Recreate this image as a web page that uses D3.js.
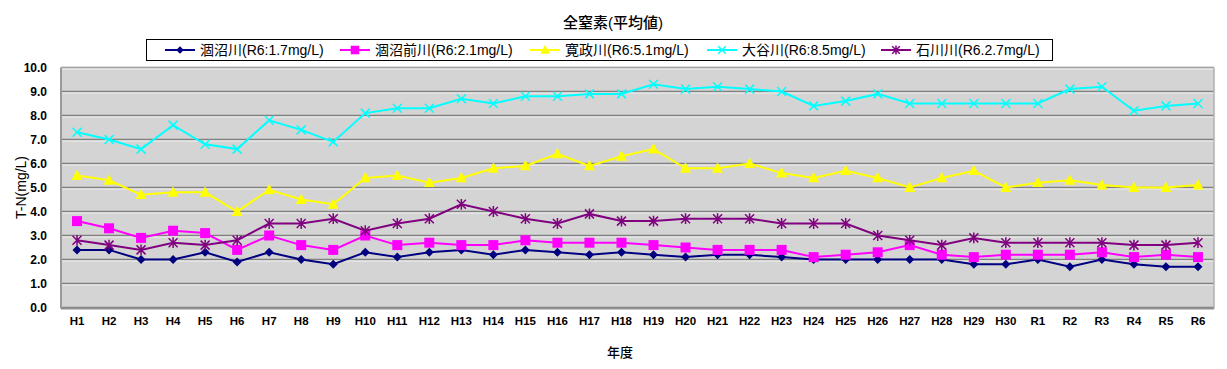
<!DOCTYPE html>
<html><head><meta charset="utf-8">
<script src="https://cdn.jsdelivr.net/npm/d3@7/dist/d3.min.js"></script>
<style>
body{margin:0;background:#fff;}
text{font-family:Arial,"Liberation Sans","Noto Sans CJK JP",sans-serif;}
</style></head>
<body><svg id="c" width="1227" height="369"></svg>
<script>
const categories = ["H1","H2","H3","H4","H5","H6","H7","H8","H9","H10","H11","H12","H13","H14","H15","H16","H17","H18","H19","H20","H21","H22","H23","H24","H25","H26","H27","H28","H29","H30","R1","R2","R3","R4","R5","R6"];
const hinumagawa = [2.4,2.4,2.0,2.0,2.3,1.9,2.3,2.0,1.8,2.3,2.1,2.3,2.4,2.2,2.4,2.3,2.2,2.3,2.2,2.1,2.2,2.2,2.1,2.0,2.0,2.0,2.0,2.0,1.8,1.8,2.0,1.7,2.0,1.8,1.7,1.7];
const hinumamaegawa = [3.6,3.3,2.9,3.2,3.1,2.4,3.0,2.6,2.4,3.0,2.6,2.7,2.6,2.6,2.8,2.7,2.7,2.7,2.6,2.5,2.4,2.4,2.4,2.1,2.2,2.3,2.6,2.2,2.1,2.2,2.2,2.2,2.3,2.1,2.2,2.1];
const kanseigawa = [5.5,5.3,4.7,4.8,4.8,4.0,4.9,4.5,4.3,5.4,5.5,5.2,5.4,5.8,5.9,6.4,5.9,6.3,6.6,5.8,5.8,6.0,5.6,5.4,5.7,5.4,5.0,5.4,5.7,5.0,5.2,5.3,5.1,5.0,5.0,5.1];
const oyagawa = [7.3,7.0,6.6,7.6,6.8,6.6,7.8,7.4,6.9,8.1,8.3,8.3,8.7,8.5,8.8,8.8,8.9,8.9,9.3,9.1,9.2,9.1,9.0,8.4,8.6,8.9,8.5,8.5,8.5,8.5,8.5,9.1,9.2,8.2,8.4,8.5];
const ishikawagawa = [2.8,2.6,2.4,2.7,2.6,2.8,3.5,3.5,3.7,3.2,3.5,3.7,4.3,4.0,3.7,3.5,3.9,3.6,3.6,3.7,3.7,3.7,3.5,3.5,3.5,3.0,2.8,2.6,2.9,2.7,2.7,2.7,2.7,2.6,2.6,2.7];
const seriesNames = ["涸沼川(R6:1.7mg/L)","涸沼前川(R6:2.1mg/L)","寛政川(R6:5.1mg/L)","大谷川(R6:8.5mg/L)","石川川(R6.2.7mg/L)"];
const yTicks = [0,1,2,3,4,5,6,7,8,9,10];
const title = "全窒素(平均値)";
const yTitle = "T-N(mg/L)";
const xTitle = "年度";

const series = [
  {name:seriesNames[0], values:hinumagawa, color:"#000080", marker:"diamond"},
  {name:seriesNames[1], values:hinumamaegawa, color:"#ff00ff", marker:"square"},
  {name:seriesNames[2], values:kanseigawa, color:"#ffff00", marker:"triangle"},
  {name:seriesNames[3], values:oyagawa, color:"#00ffff", marker:"x"},
  {name:seriesNames[4], values:ishikawagawa, color:"#800080", marker:"star"}
];

const svg = d3.select("#c");
const L=61, R=1214, T=67.5, B=307.5;
const x = d3.scaleBand().domain(categories).range([L,R]);
const y = d3.scaleLinear().domain([0,10]).range([B,T]);

svg.append("text").attr("x",613).attr("y",28).attr("text-anchor","middle")
  .attr("font-size",15).attr("font-weight",500).attr("font-family","'Noto Sans CJK JP',sans-serif").text(title);

// plot area
svg.append("rect").attr("x",L).attr("y",T).attr("width",R-L).attr("height",B-T).attr("fill","#d4d4d4");
yTicks.forEach(t=>{
  svg.append("line").attr("x1",L).attr("x2",R).attr("y1",y(t)).attr("y2",y(t)).attr("stroke","#808080").attr("stroke-width",1.3);
  if(t>0) svg.append("line").attr("x1",L).attr("x2",R).attr("y1",y(t)+1.5).attr("y2",y(t)+1.5).attr("stroke","#f2f2f2").attr("stroke-width",1);
});
// border
svg.append("line").attr("x1",L).attr("x2",L).attr("y1",T).attr("y2",B+1).attr("stroke","#9a9a9a").attr("stroke-width",2);
svg.append("line").attr("x1",R).attr("x2",R).attr("y1",T).attr("y2",B+1).attr("stroke","#b0b0b0").attr("stroke-width",1.5);
svg.append("line").attr("x1",L).attr("x2",R).attr("y1",T).attr("y2",T).attr("stroke","#a0a0a0").attr("stroke-width",1);
svg.append("line").attr("x1",L).attr("x2",R).attr("y1",B+1).attr("y2",B+1).attr("stroke","#909090").attr("stroke-width",2);

// y axis labels
yTicks.forEach(t=>{
  svg.append("text").attr("x",47).attr("y",y(t)+4.5).attr("text-anchor","end")
    .attr("font-size",12).attr("font-weight","bold").text(t.toFixed(1));
});
svg.append("text").attr("transform","translate(26,"+((T+B)/2)+") rotate(-90)")
  .attr("text-anchor","middle").attr("font-size",14).text(yTitle);

// x labels
categories.forEach(c=>{
  svg.append("text").attr("x",x(c)+x.bandwidth()/2).attr("y",325).attr("text-anchor","middle")
    .attr("font-size",11.5).attr("font-weight","bold").text(c);
});
svg.append("text").attr("x",620).attr("y",357).attr("text-anchor","middle").attr("font-size",13).attr("font-weight",500)
  .attr("font-family","'Noto Sans CJK JP',sans-serif").text(xTitle);

function drawMarker(g, type, cx, cy, color, s){
  if(type==="diamond"){
    g.append("path").attr("d",`M${cx},${cy-s}L${cx+s},${cy}L${cx},${cy+s}L${cx-s},${cy}Z`).attr("fill",color);
  } else if(type==="square"){
    g.append("rect").attr("x",cx-s).attr("y",cy-s).attr("width",2*s).attr("height",2*s).attr("fill",color);
  } else if(type==="triangle"){
    g.append("path").attr("d",`M${cx},${cy-s*1.1}L${cx+s},${cy+s*0.8}L${cx-s},${cy+s*0.8}Z`).attr("fill",color);
  } else if(type==="x"){
    g.append("path").attr("d",`M${cx-s},${cy-s}L${cx+s},${cy+s}M${cx-s},${cy+s}L${cx+s},${cy-s}`).attr("stroke",color).attr("stroke-width",1.5);
  } else if(type==="star"){
    g.append("path").attr("d",`M${cx-s},${cy-s}L${cx+s},${cy+s}M${cx-s},${cy+s}L${cx+s},${cy-s}M${cx},${cy-s*1.2}L${cx},${cy+s*1.2}`).attr("stroke",color).attr("stroke-width",1.5);
  }
}
const sizes = {diamond:4.5, square:5, triangle:5.5, x:4.5, star:4.5};
const line = d3.line().x((d,i)=>x(categories[i])+x.bandwidth()/2).y(d=>y(d));
series.forEach(s=>{
  const g = svg.append("g");
  g.append("path").datum(s.values).attr("d",line).attr("fill","none").attr("stroke",s.color).attr("stroke-width",2);
  s.values.forEach((v,i)=>drawMarker(g,s.marker,x(categories[i])+x.bandwidth()/2,y(v),s.color,sizes[s.marker]));
});

// legend
svg.append("rect").attr("x",146.5).attr("y",39.5).attr("width",906).attr("height",21).attr("fill","#fff").attr("stroke","#000").attr("stroke-width",1);
const legX = [165, 340, 530, 707, 881];
series.forEach((s,i)=>{
  const g = svg.append("g");
  const lx = legX[i];
  g.append("line").attr("x1",lx).attr("x2",lx+30).attr("y1",50).attr("y2",50).attr("stroke",s.color).attr("stroke-width",2);
  drawMarker(g,s.marker,lx+15,50,s.color,sizes[s.marker]*0.85);
  g.append("text").attr("x",lx+35).attr("y",55).attr("font-size",14).attr("textLength",null).text(s.name);
});
</script></body></html>
